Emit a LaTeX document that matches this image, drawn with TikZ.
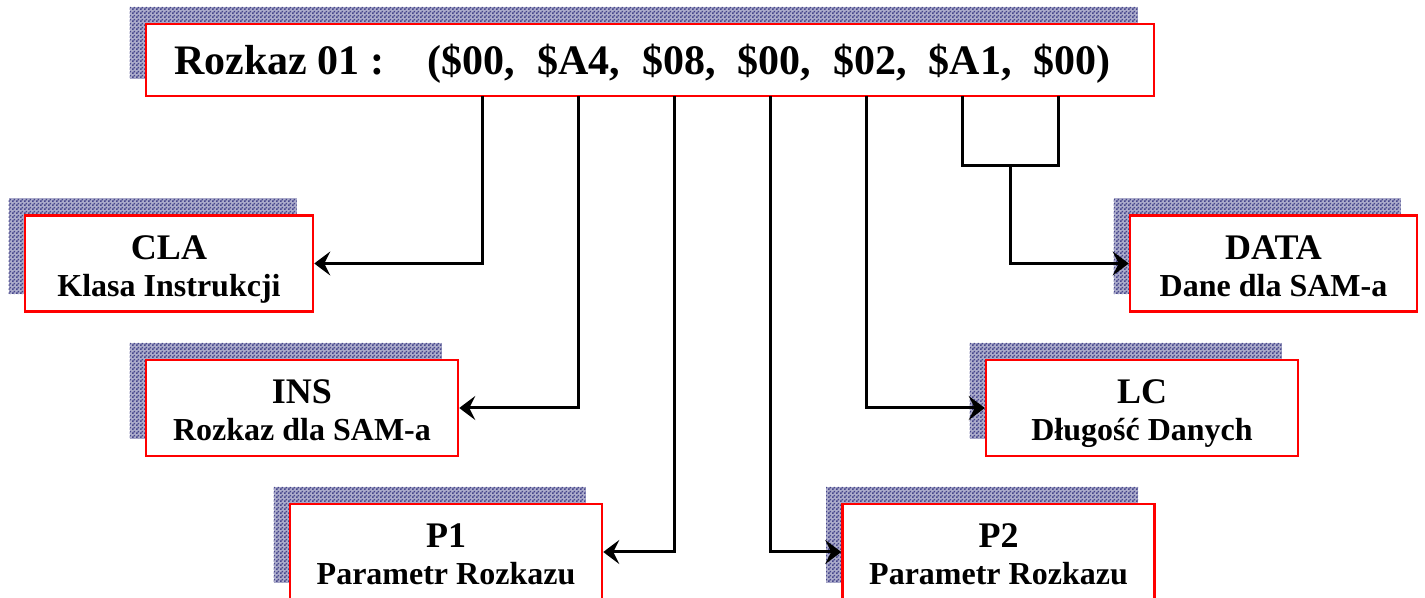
\documentclass[tikz,border=0pt]{standalone}
\usepackage{fontspec}
\setmainfont{Liberation Serif}
\usepackage{tikz}
\usetikzlibrary{arrows.meta,shadows,patterns}

\pgfdeclarepatternformonly{finecheck}{\pgfpointorigin}{\pgfqpoint{2pt}{2pt}}{\pgfqpoint{2pt}{2pt}}{%
  \pgfpathrectangle{\pgfpointorigin}{\pgfqpoint{1pt}{1pt}}%
  \pgfpathrectangle{\pgfqpoint{1pt}{1pt}}{\pgfqpoint{1pt}{1pt}}%
  \pgfusepath{fill}}
\definecolor{boxred}{RGB}{255,0,0}
\definecolor{shadowblue}{RGB}{70,70,140}

\begin{document}
\begin{tikzpicture}[x=0.5pt, y=-0.5pt,
  box/.style={draw=boxred, line width=1.25pt, fill=white, inner sep=0pt, minimum height=48pt,
    general shadow={fill=shadowblue!45, shadow xshift=-8.25pt, shadow yshift=8.5pt},
    general shadow={pattern=finecheck, pattern color=shadowblue, shadow xshift=-8.25pt, shadow yshift=8.5pt}},
  title/.style={anchor=base, font=\fontsize{18}{20}\selectfont\bfseries},
  subtitle/.style={anchor=base, font=\fontsize{16}{18}\selectfont\bfseries},
  wire/.style={line width=1.5pt},
  conn/.style={wire, -{Stealth[length=8pt, width=12pt, inset=3pt]}}]
\useasboundingbox (0,0) rectangle (1425,598);

% the command and its bytes
\node[box, minimum width=504pt, minimum height=36pt] (cmd) at (650,60) {};
\node[anchor=base west, font=\fontsize{21}{24}\selectfont\bfseries] (cmdtext) at (167,75)
  {Rozkaz 01 :\hspace{22pt}(\$00,\hspace{11pt}\$A4,\hspace{11pt}\$08,\hspace{11pt}\$00,\hspace{11pt}\$02,\hspace{11pt}\$A1,\hspace{11pt}\$00)};

\foreach \id/\x/\y/\w/\head/\desc in {
    cla/169/263.5/144pt/CLA/Klasa Instrukcji,
    ins/302/408/156pt/INS/Rozkaz dla SAM-a,
    p1/446/552/156pt/P1/Parametr Rozkazu,
    p2/998.5/552/156pt/P2/Parametr Rozkazu,
    lc/1142/408/156pt/LC/Długość Danych,
    data/1273.5/263.5/143.5pt/DATA/Dane dla SAM-a} {
  \node[box, minimum width=\w] (\id) at (\x,\y) {};
  \node[title] (\id-head) at ([yshift=-22.5pt]\id.north) {\head};
  \node[subtitle] (\id-desc) at ([yshift=-41pt]\id.north) {\desc};
}

\foreach \i/\x in {1/482, 2/578, 3/674, 4/770, 5/866, 6/962, 7/1058}
  \coordinate (t\i) at (\x,96);
\coordinate (join) at (1010,166);

\draw[conn] (t1) |- (cla);
\draw[conn] (t2) |- (ins);
\draw[conn] (t3) |- (p1);
\draw[conn] (t4) |- (p2);
\draw[conn] (t5) |- (lc);
\draw[wire] (t6) |- (join) -| (t7);
\draw[conn] (join) |- (data);
\end{tikzpicture}
\end{document}
